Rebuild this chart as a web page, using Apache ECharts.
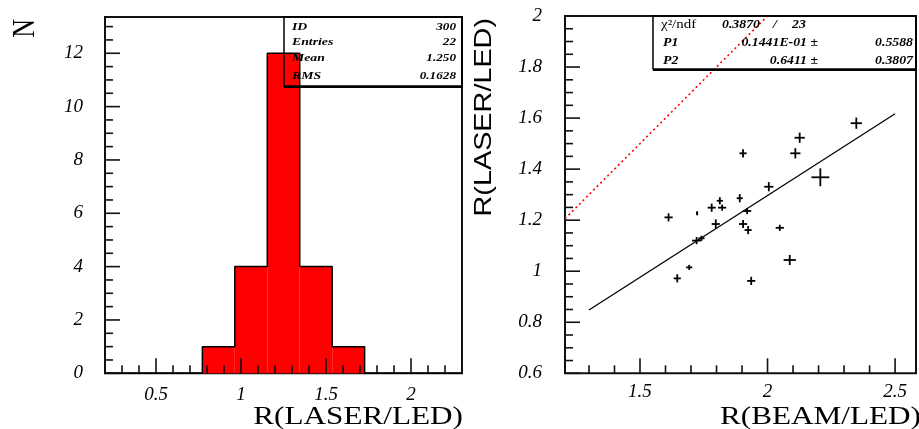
<!DOCTYPE html>
<html><head><meta charset="utf-8">
<script src="https://cdn.jsdelivr.net/npm/echarts@6/dist/echarts.min.js"></script>
<style>html,body{margin:0;padding:0;background:#fff}#c{width:919px;height:429px}</style>
</head><body><div id="c"></div>
<script>
// ---------- Left: histogram R(LASER/LED) ----------
const histRange = [0.2, 2.3];
const histCounts = [0, 0, 0, 1, 4, 12, 4, 1, 0, 0, 0];
const leftYMax = 13.36;
const leftXMajor = [0.5, 1, 1.5, 2];
const leftXMinor = [0.3, 0.4, 0.6, 0.7, 0.8, 0.9, 1.1, 1.2, 1.3, 1.4, 1.6, 1.7, 1.8, 1.9, 2.1, 2.2];
const leftYMajor = [0, 2, 4, 6, 8, 10, 12];
const leftYMinor = [0.5, 1, 1.5, 2.5, 3, 3.5, 4.5, 5, 5.5, 6.5, 7, 7.5, 8.5, 9, 9.5, 10.5, 11, 11.5, 12.5, 13];
const leftStatsLabels = ['ID', 'Entries', 'Mean', 'RMS'];
const leftStatsValues = ['300', '22', '1.250', '0.1628'];

// ---------- Right: scatter R(LASER/LED) vs R(BEAM/LED) ----------
const beamLed  = [2.348, 2.126, 1.904, 2.109, 2.207, 2.005, 1.891, 1.813, 1.781, 1.822, 1.724, 1.612, 1.920, 1.797, 1.904, 1.924, 2.048, 1.722, 1.741, 2.087, 1.693, 1.646, 1.936];
const laserLed = [1.580, 1.523, 1.462, 1.462, 1.368, 1.331, 1.286, 1.276, 1.249, 1.249, 1.227, 1.211, 1.236, 1.185, 1.185, 1.161, 1.170, 1.120, 1.129, 1.044, 1.015, 0.972, 0.962];
const beamErr  = [0.022, 0.020, 0.014, 0.020, 0.035, 0.018, 0.012, 0.012, 0.016, 0.016, 0.004, 0.016, 0.016, 0.016, 0.016, 0.014, 0.016, 0.018, 0.012, 0.024, 0.012, 0.014, 0.016];
const laserErr = [0.022, 0.020, 0.016, 0.020, 0.035, 0.018, 0.016, 0.014, 0.016, 0.012, 0.008, 0.016, 0.012, 0.018, 0.016, 0.016, 0.012, 0.014, 0.010, 0.020, 0.010, 0.016, 0.016];
const fitP1 = 0.01441;
const fitP2 = 0.6411;
const fitRange = [1.3, 2.5];
const rightXRange = [1.206, 2.582];
const rightYRange = [0.6, 2];
const rightXMajor = [1.5, 2, 2.5];
const rightXMinor = [1.3, 1.4, 1.6, 1.7, 1.8, 1.9, 2.1, 2.2, 2.3, 2.4];
const rightYMajor = [0.6, 0.8, 1, 1.2, 1.4, 1.6, 1.8, 2];
const rightYMinor = [0.65, 0.7, 0.75, 0.85, 0.9, 0.95, 1.05, 1.1, 1.15, 1.25, 1.3, 1.35, 1.45, 1.5, 1.55, 1.65, 1.7, 1.75, 1.85, 1.9, 1.95];

// ---------- build ----------
const nb = histCounts.length;
const bw = (histRange[1] - histRange[0]) / nb;
const histBins = histCounts.map((c, i) => [histRange[0] + i * bw, histRange[0] + (i + 1) * bw, c]);
const outline = [[histRange[0], 0]];
histBins.forEach(b => { outline.push([b[0], b[2]]); outline.push([b[1], b[2]]); });
outline.push([histRange[1], 0]);

const points = beamLed.map((x, i) => [x, laserLed[i], beamErr[i], laserErr[i]]);
const fitLine = fitRange.map(x => [x, fitP1 + fitP2 * x]);
const diagLine = [[rightXRange[0], rightXRange[0]], [rightYRange[1], rightYRange[1]]];

const lblFont = { fontFamily: 'Liberation Serif', fontStyle: 'italic', fontSize: 19, color: '#000' };
function valAxis(grid, range, major, pos, margin) {
  return {
    type: 'value', gridIndex: grid, position: pos, min: range[0], max: range[1],
    splitLine: { show: false }, axisLine: { show: false }, axisTick: { show: false },
    axisLabel: Object.assign({ show: true, margin: margin, customValues: major }, lblFont)
  };
}

const statsFont = 'italic bold 11px "Liberation Serif"';
const statsFontR = 'italic bold 12px "Liberation Serif"';
const graphics = [];
// left stats box
graphics.push({ type: 'rect', z: 100, shape: { x: 284, y: 17, width: 178, height: 69 }, style: { fill: 'none', stroke: '#000', lineWidth: 1.5 } });
graphics.push({ type: 'line', z: 100, shape: { x1: 284, y1: 87, x2: 463, y2: 87 }, style: { stroke: '#000', lineWidth: 2 } });
const leftRowsY = [27, 42, 58.5, 76];
leftStatsLabels.forEach((t, i) => {
  graphics.push({ type: 'text', z: 101, x: 292, y: leftRowsY[i], scaleX: 1.25, style: { text: t, font: statsFont, fill: '#000', textAlign: 'left', textVerticalAlign: 'middle' } });
  graphics.push({ type: 'text', z: 101, x: 456, y: leftRowsY[i], scaleX: 1.2, style: { text: leftStatsValues[i], font: statsFont, fill: '#000', textAlign: 'right', textVerticalAlign: 'middle' } });
});
// right stats box
graphics.push({ type: 'rect', z: 100, shape: { x: 653, y: 16, width: 263, height: 53 }, style: { fill: 'none', stroke: '#000', lineWidth: 1.5 } });
graphics.push({ type: 'line', z: 100, shape: { x1: 653, y1: 70, x2: 917, y2: 70 }, style: { stroke: '#000', lineWidth: 2 } });
const rStats = [
  ['χ²/ndf', 661, 25, 'left', '13px "Liberation Serif"'], ['0.3870', 722, 25, 'left', statsFontR], ['/', 775, 25, 'center', statsFontR], ['23', 792, 25, 'left', statsFontR],
  ['P1', 663, 42.5, 'left', statsFontR], ['0.1441E-01 ±', 818, 42.5, 'right', statsFontR], ['0.5588', 913, 42.5, 'right', statsFontR],
  ['P2', 663, 61, 'left', statsFontR], ['0.6411 ±', 818, 61, 'right', statsFontR], ['0.3807', 913, 61, 'right', statsFontR]
];
rStats.forEach(s => {
  graphics.push({ type: 'text', z: 101, x: s[1], y: s[2], scaleX: 1.15, style: { text: s[0], font: s[4], fill: '#000', textAlign: s[3], textVerticalAlign: 'middle' } });
});
// axis titles
graphics.push({ type: 'text', z: 101, x: 25, y: 19, rotation: Math.PI / 2, scaleY: 1.25, style: { text: 'N', font: '26px "Liberation Serif"', fill: '#000', textAlign: 'right', textVerticalAlign: 'middle' } });
graphics.push({ type: 'text', z: 101, x: 463, y: 417, scaleX: 1.2, style: { text: 'R(LASER/LED)', font: '26px "Liberation Serif"', fill: '#000', textAlign: 'right', textVerticalAlign: 'middle' } });
graphics.push({ type: 'text', z: 101, x: 921, y: 417, scaleX: 1.2, style: { text: 'R(BEAM/LED)', font: '26px "Liberation Serif"', fill: '#000', textAlign: 'right', textVerticalAlign: 'middle' } });
graphics.push({ type: 'text', z: 101, x: 484, y: 18, rotation: Math.PI / 2, scaleX: 1.2, style: { text: 'R(LASER/LED)', font: '24px "Liberation Sans"', fill: '#000', textAlign: 'right', textVerticalAlign: 'middle' } });

const option = {
  animation: false,
  backgroundColor: '#fff',
  grid: [
    { left: 105, top: 17, width: 357, height: 356.3, show: true, borderColor: '#111', borderWidth: 2, backgroundColor: 'transparent' },
    { left: 565, top: 16, width: 351, height: 357.3, show: true, borderColor: '#111', borderWidth: 2, backgroundColor: 'transparent' }
  ],
  xAxis: [valAxis(0, histRange, leftXMajor, 'bottom', 12), valAxis(1, rightXRange, rightXMajor, 'bottom', 9)],
  yAxis: [valAxis(0, [0, leftYMax], leftYMajor, 'left', 22), valAxis(1, rightYRange, rightYMajor, 'left', 23)],
  series: [
    {
      type: 'custom', xAxisIndex: 0, yAxisIndex: 0, data: histBins, z: 2,
      renderItem: function (params, api) {
        const p0 = api.coord([api.value(0), api.value(2)]);
        const p1 = api.coord([api.value(1), 0]);
        return { type: 'rect', shape: { x: p0[0], y: p0[1], width: p1[0] - p0[0], height: p1[1] - p0[1] }, style: { fill: '#ff0000' } };
      }
    },
    { type: 'line', xAxisIndex: 0, yAxisIndex: 0, data: outline, symbol: 'none', z: 3, lineStyle: { color: '#000', width: 1.5 } },
    {
      type: 'line', xAxisIndex: 1, yAxisIndex: 1, data: diagLine, symbol: 'none', z: 3,
      lineStyle: { color: '#ff0000', width: 1.6, type: [2, 3] }
    },
    { type: 'line', xAxisIndex: 1, yAxisIndex: 1, data: fitLine, symbol: 'none', z: 4, lineStyle: { color: '#000', width: 1.3 } },
    {
      type: 'custom', xAxisIndex: 1, yAxisIndex: 1, data: points, z: 5,
      renderItem: function (params, api) {
        const x = api.value(0), y = api.value(1), ex = api.value(2), ey = api.value(3);
        const l = api.coord([x - ex, y]), r = api.coord([x + ex, y]);
        const t = api.coord([x, y + ey]), b = api.coord([x, y - ey]);
        return { type: 'group', children: [
          { type: 'line', shape: { x1: l[0], y1: l[1], x2: r[0], y2: r[1] }, style: { stroke: '#000', lineWidth: 1.8 } },
          { type: 'line', shape: { x1: t[0], y1: t[1], x2: b[0], y2: b[1] }, style: { stroke: '#000', lineWidth: 1.8 } }
        ] };
      }
    }
  ]
};
const chart = echarts.init(document.getElementById('c'));
chart.setOption(option);

// inside ticks, positioned through the chart's own axis scales
function addTicks(idx, xRange, yRange, xMaj, xMin, yMaj, yMin) {
  const finder = { xAxisIndex: idx, yAxisIndex: idx };
  const st = { stroke: '#111', lineWidth: 1.6 };
  function xt(v, len) {
    const a = chart.convertToPixel(finder, [v, yRange[0]]);
    graphics.push({ type: 'line', z: 200, shape: { x1: a[0], y1: a[1], x2: a[0], y2: a[1] - len }, style: st });
  }
  function yt(v, len) {
    const a = chart.convertToPixel(finder, [xRange[0], v]);
    graphics.push({ type: 'line', z: 200, shape: { x1: a[0], y1: a[1], x2: a[0] + len, y2: a[1] }, style: st });
  }
  xMaj.forEach(v => xt(v, 15)); xMin.forEach(v => xt(v, 8));
  yMaj.forEach(v => yt(v, 15)); yMin.forEach(v => yt(v, 8));
}
addTicks(0, histRange, [0, leftYMax], leftXMajor, leftXMinor, leftYMajor, leftYMinor);
addTicks(1, rightXRange, rightYRange, rightXMajor, rightXMinor, rightYMajor, rightYMinor);
chart.setOption({ graphic: { elements: graphics } });
</script></body></html>
